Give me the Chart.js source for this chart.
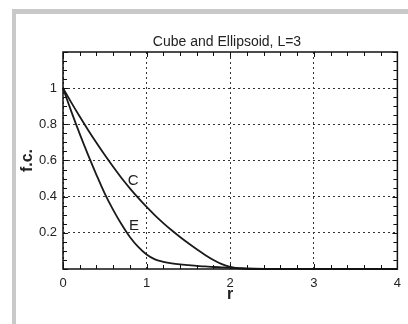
<!DOCTYPE html>
<html>
<head>
<meta charset="utf-8">
<script src="https://cdn.jsdelivr.net/npm/chart.js@4.4.0/dist/chart.umd.min.js"></script>
<style>
  html, body { margin: 0; padding: 0; background: #fff; }
  #chart { display: block; }
</style>
</head>
<body>
<canvas id="chart" width="408" height="324"></canvas>
<script>
// values
const rValues = [0, 0.1, 0.2, 0.3, 0.4, 0.5, 0.6, 0.7, 0.8, 0.9, 1.0, 1.1, 1.2, 1.3, 1.4, 1.5, 1.6, 1.7, 1.8, 1.9, 2.0, 2.1, 2.2, 2.3, 2.5, 3, 3.5, 4];
const cubeValues = [1.0, 0.92, 0.843, 0.769, 0.698, 0.63, 0.565, 0.503, 0.446, 0.393, 0.343, 0.297, 0.254, 0.214, 0.177, 0.142, 0.109, 0.078, 0.05, 0.027, 0.012, 0.004, 0.001, 0, 0, 0, 0, 0];
const ellipsoidValues = [1.0, 0.87, 0.747, 0.631, 0.521, 0.417, 0.327, 0.247, 0.177, 0.122, 0.08, 0.053, 0.04, 0.031, 0.025, 0.021, 0.017, 0.014, 0.011, 0.009, 0.007, 0.005, 0.003, 0.0015, 0, 0, 0, 0];
const xTicks = [0, 1, 2, 3, 4];
const yTicks = [0.2, 0.4, 0.6, 0.8, 1];
const chartTitle = "Cube and Ellipsoid, L=3";
const curveLabels = [
  { text: "C", r: 0.84, v: 0.485 },
  { text: "E", r: 0.85, v: 0.237 }
];

const FONT = "'Liberation Sans', Arial, sans-serif";

function toPoints(vals) {
  return rValues.map((r, i) => ({ x: r, y: vals[i] }));
}

// gray frame, title, box, inward ticks and curve letters
const extras = {
  id: "extras",
  beforeDraw(chart) {
    const ctx = chart.ctx;
    ctx.save();
    ctx.fillStyle = "#c9c9c9";
    ctx.fillRect(12, 9, 396, 5);
    ctx.fillRect(12, 9, 4, 315);
    ctx.fillStyle = "#222";
    ctx.font = "14px " + FONT;
    ctx.textAlign = "center";
    ctx.textBaseline = "middle";
    ctx.fillText(chartTitle, 227, 42);
    ctx.restore();
  },
  afterDatasetsDraw(chart) {
    const ctx = chart.ctx;
    const xs = chart.scales.x, ys = chart.scales.y;
    const a = chart.chartArea;
    ctx.save();
    ctx.strokeStyle = "#111";
    ctx.lineWidth = 1;
    // minor ticks x every 0.2
    for (let i = 0; i <= 20; i++) {
      const px = Math.round(xs.getPixelForValue(i * 0.2)) + 0.5;
      const len = i % 5 === 0 ? 5 : 4;
      ctx.beginPath();
      ctx.moveTo(px, a.bottom); ctx.lineTo(px, a.bottom - len);
      ctx.moveTo(px, a.top); ctx.lineTo(px, a.top + len);
      ctx.stroke();
    }
    // minor ticks y every 0.05
    for (let i = 0; i <= 24; i++) {
      const py = Math.round(ys.getPixelForValue(i * 0.05)) + 0.5;
      const len = i % 4 === 0 ? 5 : 4;
      ctx.beginPath();
      ctx.moveTo(a.left, py); ctx.lineTo(a.left + len, py);
      ctx.moveTo(a.right, py); ctx.lineTo(a.right - len, py);
      ctx.stroke();
    }
    ctx.lineWidth = 1.5;
    ctx.strokeRect(a.left, a.top, a.right - a.left, a.bottom - a.top);
    ctx.fillStyle = "#222";
    ctx.font = "15px " + FONT;
    ctx.textAlign = "center";
    ctx.textBaseline = "middle";
    curveLabels.forEach(l => {
      ctx.fillText(l.text, xs.getPixelForValue(l.r), ys.getPixelForValue(l.v));
    });
    ctx.restore();
  }
};

const gridStyle = {
  color: "#333",
  lineWidth: 1,
  drawTicks: false
};

new Chart(document.getElementById("chart"), {
  type: "scatter",
  data: {
    datasets: [
      { label: "C", data: toPoints(cubeValues) },
      { label: "E", data: toPoints(ellipsoidValues) }
    ].map(d => Object.assign(d, {
      showLine: true,
      borderColor: "#1a1a1a",
      borderWidth: 1.8,
      pointRadius: 0,
      cubicInterpolationMode: "monotone",
      fill: false,
      clip: false
    }))
  },
  options: {
    responsive: false,
    animation: false,
    layout: { padding: { left: 0, right: 7, top: 52, bottom: 0 } },
    plugins: {
      legend: { display: false },
      tooltip: { enabled: false },
      title: { display: false }
    },
    scales: {
      x: {
        type: "linear",
        min: 0,
        max: 4,
        afterFit(s) { s.height = 55; },
        afterBuildTicks(s) { s.ticks = xTicks.map(v => ({ value: v })); },
        grid: Object.assign({}, gridStyle),
        border: { display: false, dash: [2, 3] },
        ticks: {
          color: "#222",
          padding: 7,
          font: { family: FONT, size: 13 },
          callback: v => String(v)
        },
        title: {
          display: true,
          text: "r",
          color: "#222",
          font: { family: FONT, size: 16, weight: "bold" },
          padding: { top: 0, bottom: 20 }
        }
      },
      y: {
        type: "linear",
        min: 0,
        max: 1.2,
        afterFit(s) { s.width = 63; },
        afterBuildTicks(s) { s.ticks = yTicks.map(v => ({ value: v })); },
        grid: Object.assign({}, gridStyle),
        border: { display: false, dash: [2, 3] },
        ticks: {
          color: "#222",
          padding: 6,
          font: { family: FONT, size: 13 },
          callback: v => String(Math.round(v * 10) / 10)
        },
        title: {
          display: true,
          text: "f.c.",
          color: "#222",
          font: { family: FONT, size: 16, weight: "bold" },
          padding: { top: 18, bottom: 0 }
        }
      }
    }
  },
  plugins: [extras]
});
</script>
</body>
</html>
